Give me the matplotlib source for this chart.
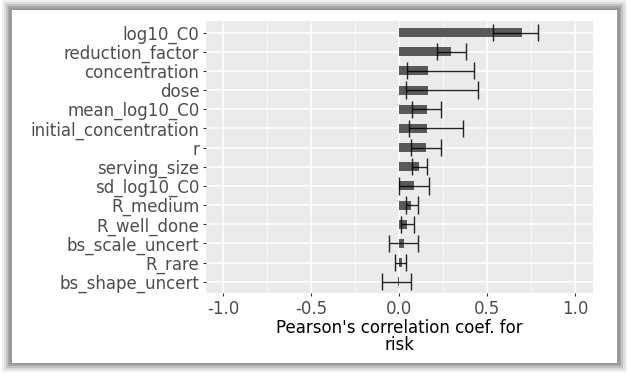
import matplotlib
matplotlib.use('Agg')
import matplotlib.pyplot as plt
from matplotlib import ticker
from matplotlib.patches import Rectangle

# top to bottom as shown
params = ['log10_C0', 'reduction_factor', 'concentration', 'dose',
          'mean_log10_C0', 'initial_concentration', 'r', 'serving_size',
          'sd_log10_C0', 'R_medium', 'R_well_done', 'bs_scale_uncert',
          'R_rare', 'bs_shape_uncert']
corr = [0.70, 0.293, 0.164, 0.164, 0.159, 0.159, 0.151, 0.115,
        0.083, 0.070, 0.045, 0.028, 0.015, -0.006]
ci_low = [0.535, 0.213, 0.045, 0.041, 0.075, 0.057, 0.068, 0.071,
          0.0, 0.040, 0.013, -0.055, -0.023, -0.10]
ci_high = [0.79, 0.38, 0.427, 0.448, 0.238, 0.363, 0.238, 0.159,
           0.172, 0.109, 0.083, 0.109, 0.037, 0.068]

W, H = 631, 374
fig = plt.figure(figsize=(W / 100, H / 100), dpi=100)
fig.patch.set_facecolor('white')


# framed screenshot look: soft shadow, grey border, white card
def px_rect(x0, y0, x1, y1, color, z):
    fig.patches.append(Rectangle(
        (x0 / W, 1 - y1 / H), (x1 - x0) / W, (y1 - y0) / H,
        transform=fig.transFigure, facecolor=color, edgecolor='none',
        zorder=z))


px_rect(2, 0, 627, 372, '#f0f0f0', -6)
px_rect(4, 2, 625, 370, '#dcdcdc', -5)
px_rect(6, 4, 623, 368, '#c2c2c2', -4)
px_rect(8, 6, 621, 366, '#a8a8a8', -3)
px_rect(9, 8, 620, 365, '#999999', -2)
px_rect(12, 10, 617, 363, 'white', -1)

ax = fig.add_axes([205.6 / W, 1 - 293.3 / H, (592.6 - 205.6) / W,
                   (293.3 - 21) / H])
ax.set_facecolor('#ebebeb')

n = len(params)
ys = [n - 1 - i for i in range(n)]

ax.barh(ys, corr, height=0.47, color='#595959', zorder=3)
ax.hlines(ys, ci_low, ci_high, color='black', linewidth=1.0, alpha=0.85,
          zorder=4)
ax.vlines(ci_low, [y - 0.45 for y in ys], [y + 0.45 for y in ys],
          color='black', linewidth=1.0, alpha=0.85, zorder=4)
ax.vlines(ci_high, [y - 0.45 for y in ys], [y + 0.45 for y in ys],
          color='black', linewidth=1.0, alpha=0.85, zorder=4)

ax.set_xlim(-1.1, 1.1)
ax.set_ylim(-0.6, n - 0.4)
ax.set_yticks(ys)
ax.set_yticklabels(params)
ax.xaxis.set_major_locator(ticker.FixedLocator([-1.0, -0.5, 0.0, 0.5, 1.0]))
ax.xaxis.set_minor_locator(ticker.FixedLocator([-0.75, -0.25, 0.25, 0.75]))
ax.xaxis.set_major_formatter(ticker.FormatStrFormatter('%.1f'))

ax.grid(True, which='major', color='white', linewidth=1.1, zorder=1)
ax.grid(True, which='minor', axis='x', color='white', linewidth=0.5,
        zorder=1)
ax.set_axisbelow(True)
for s in ax.spines.values():
    s.set_visible(False)

ax.tick_params(axis='both', which='major', length=2.5, width=0.8,
               color='#333333', labelcolor='#4d4d4d', labelsize=12, pad=2)
ax.tick_params(axis='x', which='minor', length=0)

ax.set_xlabel("Pearson's correlation coef. for\nrisk", fontsize=12,
              color='black', linespacing=0.95, labelpad=1)

fig.savefig('out.png', dpi=100)
